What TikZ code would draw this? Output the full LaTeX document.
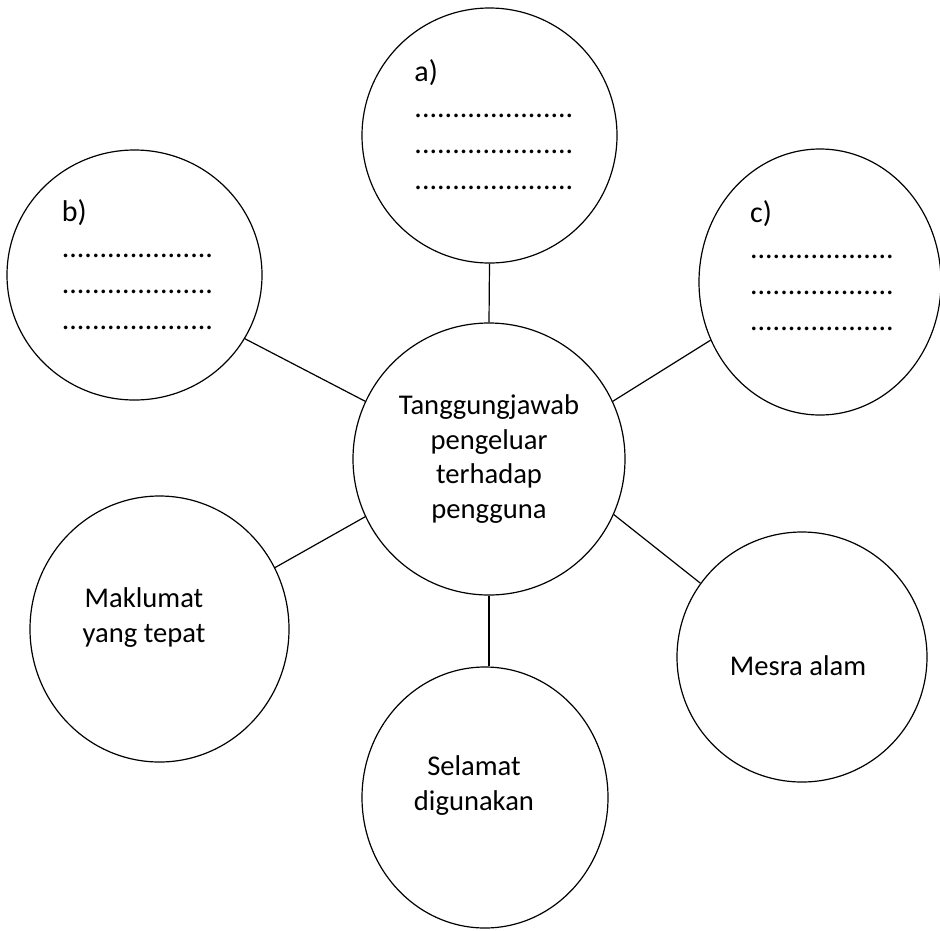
\documentclass[tikz,border=0pt]{standalone}
\usepackage{fontspec}
\setmainfont{Carlito}
\usetikzlibrary{shapes.geometric}
\begin{document}
\begin{tikzpicture}[x=1pt,y=-1pt,
  bubble/.style={draw=black, line width=1.2pt, ellipse, inner sep=0pt},
  link/.style={draw=black, line width=1.2pt},
  txt/.style={inner sep=0pt, align=center, font=\fontsize{28.6}{35}\selectfont},
  blank/.style={inner sep=0pt, align=left, font=\fontsize{30}{36}\selectfont}]
\useasboundingbox (0,0) rectangle (940,930);
% circles
\node[bubble, minimum width=272pt, minimum height=272pt, align=center,
      font=\fontsize{28.6}{34.7}\selectfont] (ctr) at (489,459)
  {Tanggungjawab\\pengeluar\\terhadap\\pengguna};
\node[bubble, minimum width=255pt, minimum height=255pt] (a) at (489.5,135.5) {};
\node[bubble, minimum width=255pt, minimum height=250pt] (b) at (134.5,275) {};
\node[bubble, minimum width=242pt, minimum height=266pt] (c) at (820,282) {};
\node[bubble, minimum width=259pt, minimum height=266pt] (mak) at (159.5,629) {};
\node[bubble, minimum width=246pt, minimum height=261pt] (sel) at (485,797.5) {};
\node[bubble, minimum width=250pt, minimum height=250pt] (mes) at (802,657) {};
% texts
\node[blank] (ta) at (494,125) {a)\\.....................\\.....................\\.....................};
\node[blank] (tb) at (137.5,265) {b)\\....................\\....................\\....................};
\node[blank] (tc) at (822,266) {c)\\...................\\...................\\...................};
\node[txt] (tmak) at (144,618) {Maklumat\\yang tepat};
\node[txt] (tsel) at (474,786) {Selamat\\digunakan};
\node[txt, anchor=base] (tmes) at (798,675) {Mesra alam};
% connectors
\draw[link] (ctr.90) -- (a.-90);
\draw[link] (ctr.155.8) -- (b.-30.9);
\draw[link] (ctr.25.2) -- (c.-152);
\draw[link] (ctr.-155.7) -- (mak.28.5);
\draw[link] (ctr.-24.8) -- (mes.144.3);
\draw[link] (ctr.south) -- (ctr.south |- sel.north);
\end{tikzpicture}
\end{document}
